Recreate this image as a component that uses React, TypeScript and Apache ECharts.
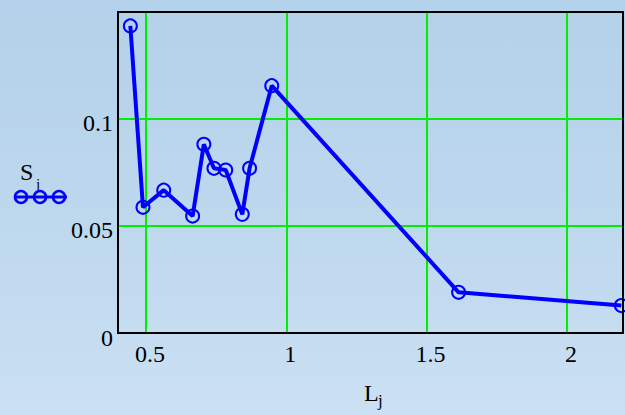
import React, { useEffect, useRef } from "react";
import * as echarts from "echarts";

const L = [0.444, 0.489, 0.563, 0.666, 0.706, 0.742, 0.784, 0.843, 0.869, 0.948, 1.614, 2.194];
const S = [0.1434, 0.0587, 0.0667, 0.0546, 0.0881, 0.0769, 0.0761, 0.0554, 0.0769, 0.1155, 0.019, 0.0128];
const X_MIN = 0.4;
const X_MAX = 2.2;
const Y_MIN = 0;
const Y_MAX = 0.1499;
const X_TITLE = "L";
const Y_TITLE = "S";
const SUB = "j";

const FONT = "Liberation Serif";

export default function App() {
  const ref = useRef<HTMLDivElement>(null);
  useEffect(() => {
    if (!ref.current) return;
    const chart = echarts.init(ref.current, null, { renderer: "svg" });
    const blue = "#0000ff";
    chart.setOption({
      animation: false,
      backgroundColor: "transparent",
      grid: {
        left: 118,
        right: 2,
        top: 12,
        bottom: 82,
        show: true,
        borderColor: "#000",
        borderWidth: 2,
        backgroundColor: "transparent",
        z: 10,
      },
      xAxis: {
        type: "value",
        min: X_MIN,
        max: X_MAX,
        splitNumber: 4,
        axisLine: { show: false },
        axisTick: { show: false },
        splitLine: { show: true, lineStyle: { color: "#00ee00", width: 2 } },
        axisLabel: {
          showMinLabel: false,
          showMaxLabel: false,
          color: "#000",
          fontFamily: FONT,
          fontSize: 24,
          margin: 9,
          padding: [0, 0, 0, 8],
        },
      },
      yAxis: {
        type: "value",
        min: Y_MIN,
        max: Y_MAX,
        splitNumber: 3,
        axisLine: { show: false },
        axisTick: { show: false },
        splitLine: { show: true, lineStyle: { color: "#00ee00", width: 2 } },
        axisLabel: {
          showMaxLabel: false,
          color: "#000",
          fontFamily: FONT,
          fontSize: 24,
          margin: 5,
          formatter: (v: number) => (v === 0 ? "{z|0}" : `{a|${v}}`),
          rich: {
            a: { fontFamily: FONT, fontSize: 24, color: "#000", padding: [8, 0, 0, 0] },
            z: { fontFamily: FONT, fontSize: 24, color: "#000", padding: [9, 0, 0, 0] },
          },
        },
      },
      series: [
        {
          type: "line",
          data: L.map((x, i) => [x, S[i]]),
          symbol: "circle",
          symbolSize: 13,
          showAllSymbol: true,
          lineStyle: { color: blue, width: 4 },
          itemStyle: { color: "rgba(0,0,0,0)", borderColor: blue, borderWidth: 2 },
          z: 3,
        },
      ],
      graphic: [
        {
          type: "text",
          left: 364,
          top: 381,
          style: { text: X_TITLE, fontFamily: FONT, fontSize: 24, fill: "#000" },
        },
        {
          type: "text",
          left: 378,
          top: 392,
          style: { text: SUB, fontFamily: FONT, fontSize: 17, fill: "#000" },
        },
        {
          type: "text",
          left: 20,
          top: 160,
          style: { text: Y_TITLE, fontFamily: FONT, fontSize: 24, fill: "#000" },
        },
        {
          type: "text",
          left: 36,
          top: 176,
          style: { text: SUB, fontFamily: FONT, fontSize: 15, fill: "#000" },
        },
        {
          type: "line",
          shape: { x1: 14, y1: 197, x2: 67, y2: 197 },
          style: { stroke: blue, lineWidth: 3 },
        },
        { type: "circle", shape: { cx: 21, cy: 197, r: 6 }, style: { fill: "none", stroke: blue, lineWidth: 2.5 } },
        { type: "circle", shape: { cx: 40, cy: 197, r: 6 }, style: { fill: "none", stroke: blue, lineWidth: 2.5 } },
        { type: "circle", shape: { cx: 59, cy: 197, r: 6 }, style: { fill: "none", stroke: blue, lineWidth: 2.5 } },
      ],
    });
    return () => chart.dispose();
  }, []);
  return (
    <div
      style={{
        position: "fixed",
        left: 0,
        top: 0,
        width: 625,
        height: 415,
        background: "linear-gradient(180deg, #b3d1ea 0%, #bed8ee 55%, #cbe0f3 100%)",
      }}
    >
      <div ref={ref} style={{ width: 625, height: 415 }} />
    </div>
  );
}
